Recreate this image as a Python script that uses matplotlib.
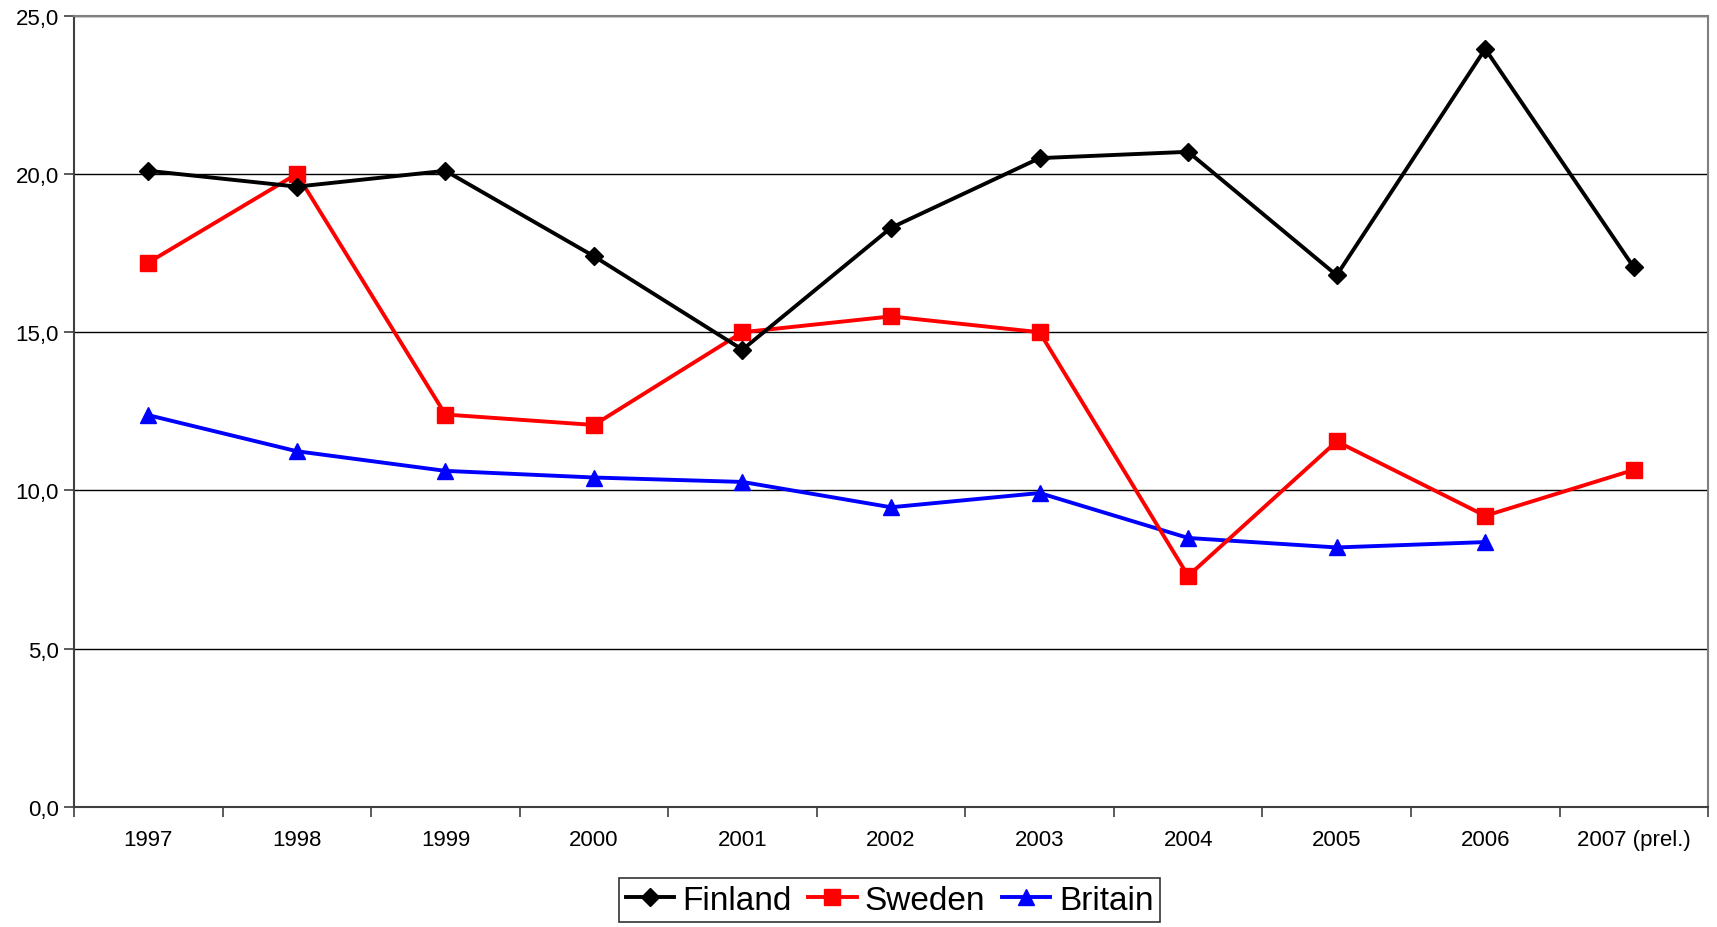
import matplotlib.pyplot as plt
import numpy as np

plt.rcParams['font.family'] = ['Liberation Sans', 'DejaVu Sans']

years = ["1997", "1998", "1999", "2000", "2001", "2002", "2003", "2004", "2005", "2006", "2007 (prel.)"]
finland = [20.1, 19.6, 20.1, 17.4, 14.45, 18.3, 20.5, 20.7, 16.8, 23.95, 17.05]
sweden = [17.2, 20.0, 12.4, 12.07, 15.0, 15.5, 15.0, 7.3, 11.55, 9.2, 10.65]
britain = [12.38, 11.24, 10.62, 10.41, 10.27, 9.47, 9.92, 8.5, 8.2, 8.37, np.nan]

fig = plt.figure(figsize=(17.17, 9.28), dpi=100)
ax = fig.add_axes([0.0431, 0.1293, 0.9517, 0.8527])

x = np.arange(len(years))
ax.plot(x, finland, color="black", lw=2.8, marker="D", ms=9.5, label="Finland", zorder=5)
ax.plot(x, sweden, color="#ff0000", lw=2.8, marker="s", ms=12, label="Sweden", zorder=4)
ax.plot(x, britain, color="#0000ff", lw=2.8, marker="^", ms=11, label="Britain", zorder=3)

ax.set_xlim(-0.5, len(years) - 0.5)
ax.set_ylim(0, 25)
ax.set_yticks(np.arange(0, 26, 5))
ax.set_yticklabels([f"{v:.1f}".replace(".", ",") for v in np.arange(0, 26, 5)], fontsize=16)
ax.yaxis.grid(True, color="black", lw=1)
ax.set_axisbelow(True)

# category labels centered, tick marks at category boundaries
ax.set_xticks(x)
ax.set_xticklabels(years, fontsize=16)
ax.tick_params(axis="x", length=0, pad=16)
ax.set_xticks(np.arange(-0.5, len(years)), minor=True)
ax.tick_params(axis="x", which="minor", length=7, width=1.2, color="#404040", direction="out")
ax.tick_params(axis="y", length=7, width=1.2, color="#404040", direction="out", pad=4)

for side in ["left", "bottom"]:
    ax.spines[side].set_color("#404040")
    ax.spines[side].set_linewidth(1.5)
for side in ["top", "right"]:
    ax.spines[side].set_color("#808080")
    ax.spines[side].set_linewidth(1.5)

leg = fig.legend(loc="center", bbox_to_anchor=(0.518, 0.029), ncol=3, fontsize=24,
                 frameon=True, fancybox=False, edgecolor="black", handlelength=1.45,
                 handletextpad=0.25, columnspacing=0.5, borderpad=0.2, borderaxespad=0)
leg.get_frame().set_linewidth(1.2)

plt.savefig("out.png", dpi=100)
